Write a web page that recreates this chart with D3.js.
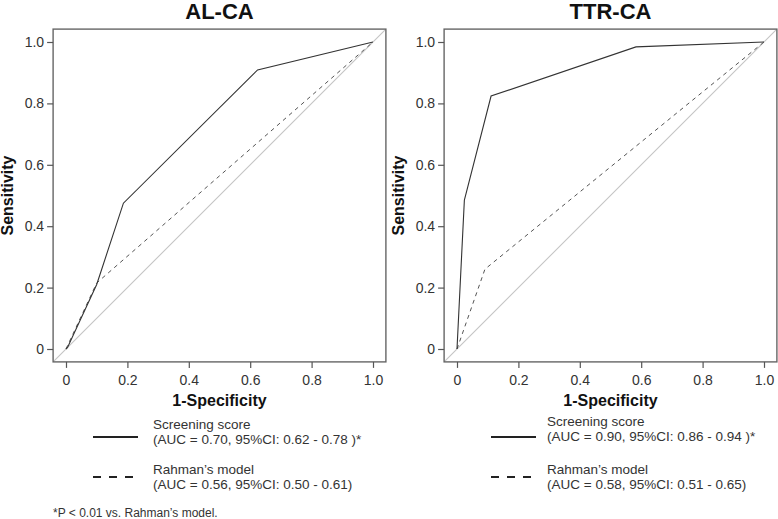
<!DOCTYPE html>
<html><head><meta charset="utf-8">
<script src="https://cdn.jsdelivr.net/npm/d3@7"></script>
<style>body{margin:0;background:#fff}text{font-family:"Liberation Sans",Arial,sans-serif}</style>
</head><body><svg id="c" width="778" height="519"></svg>
<script>
const panels = ["AL-CA", "TTR-CA"];
const tickValues = [0, 0.2, 0.4, 0.6, 0.8, 1.0];
const tickLabels = ["0", "0.2", "0.4", "0.6", "0.8", "1.0"];
// ROC points [1-specificity, sensitivity]
const alScreening = [[0,0],[0.005,0.005],[0.1,0.21],[0.187,0.475],[0.624,0.909],[1,1]];
const alRahman = [[0,0],[0.1,0.215],[1,1]];
const ttrScreening = [[0,0],[0.024,0.485],[0.111,0.824],[0.583,0.984],[1,1]];
const ttrRahman = [[0,0],[0.091,0.26],[1,1]];
const legendScreening = ["(AUC = 0.70, 95%CI: 0.62 - 0.78 )*", "(AUC = 0.90, 95%CI: 0.86 - 0.94 )*"];
const legendRahman = ["(AUC = 0.56, 95%CI: 0.50 - 0.61)", "(AUC = 0.58, 95%CI: 0.51 - 0.65)"];
const footnote = "*P < 0.01 vs. Rahman\u2019s model.";

const svg = d3.select("#c");
const screening = [alScreening, ttrScreening];
const rahman = [alRahman, ttrRahman];
const x0s = [66, 457];

panels.forEach((name, i) => {
  const x = d3.scaleLinear().domain([0, 1]).range([x0s[i], x0s[i] + 307]);
  const y = d3.scaleLinear().domain([0, 1]).range([349, 42]);
  const g = svg.append("g");
  const bx0 = x(-0.042), bx1 = x(1.042), by0 = y(1.042), by1 = y(-0.042);
  const cid = "clip" + i;
  svg.append("clipPath").attr("id", cid).append("rect")
    .attr("x", bx0).attr("y", by0).attr("width", bx1 - bx0).attr("height", by1 - by0);
  g.append("line").attr("clip-path", `url(#${cid})`)
    .attr("x1", x(-0.05)).attr("y1", y(-0.05)).attr("x2", x(1.05)).attr("y2", y(1.05))
    .attr("stroke", "#c4c4c4").attr("stroke-width", 1.1);
  const line = d3.line().x(d => x(d[0])).y(d => y(d[1]));
  g.append("path").datum(rahman[i]).attr("d", line).attr("fill", "none")
    .attr("stroke", "#555").attr("stroke-width", 1).attr("stroke-dasharray", "4,4");
  g.append("path").datum(screening[i]).attr("d", line).attr("fill", "none")
    .attr("stroke", "#333").attr("stroke-width", 1.1);
  g.append("rect").attr("x", bx0).attr("y", by0).attr("width", bx1 - bx0).attr("height", by1 - by0)
    .attr("fill", "none").attr("stroke", "#666").attr("stroke-width", 1.4);
  const xa = g.append("g").attr("transform", `translate(0,${by1})`)
    .call(d3.axisBottom(x).tickValues(tickValues).tickFormat((d, k) => tickLabels[k]).tickSize(6).tickPadding(7));
  const ya = g.append("g").attr("transform", `translate(${bx0},0)`)
    .call(d3.axisLeft(y).tickValues(tickValues).tickFormat((d, k) => tickLabels[k]).tickSize(6).tickPadding(3));
  [xa, ya].forEach(a => {
    a.select(".domain").remove();
    a.selectAll("line").attr("stroke", "#555").attr("stroke-width", 1.2);
    a.selectAll("text").attr("font-size", 14).attr("fill", "#333")
      .style("font-family", "Liberation Sans, Arial, sans-serif");
  });
  g.append("text").attr("x", (bx0 + bx1) / 2).attr("y", 19).attr("text-anchor", "middle")
    .attr("font-size", 22).attr("font-weight", "bold").attr("fill", "#111").text(name);
  g.append("text").attr("x", (bx0 + bx1) / 2).attr("y", 406).attr("text-anchor", "middle")
    .attr("font-size", 16).attr("font-weight", "bold").attr("fill", "#111").text("1-Specificity");
  g.append("text").attr("transform", `translate(${bx0 - 40},${(by0 + by1) / 2}) rotate(-90)`)
    .attr("text-anchor", "middle").attr("font-size", 16).attr("font-weight", "bold").attr("fill", "#111")
    .text("Sensitivity");
  const lx = i === 0 ? 93 : 491, tx = i === 0 ? 153 : 547;
  const ly1 = 437, ly2 = 477;
  g.append("line").attr("x1", lx).attr("x2", lx + 45).attr("y1", ly1).attr("y2", ly1)
    .attr("stroke", "#222").attr("stroke-width", 1.8);
  g.append("line").attr("x1", lx).attr("x2", lx + 45).attr("y1", ly2).attr("y2", ly2)
    .attr("stroke", "#222").attr("stroke-width", 1.8).attr("stroke-dasharray", "8,8");
  const t1 = i === 0 ? 429 : 426;
  g.append("text").attr("x", tx).attr("y", t1).attr("font-size", 13.5).attr("fill", "#333").text("Screening score");
  g.append("text").attr("x", tx).attr("y", t1 + 15).attr("font-size", 13.5).attr("fill", "#333").text(legendScreening[i]);
  g.append("text").attr("x", tx).attr("y", 474).attr("font-size", 13.5).attr("fill", "#333").text("Rahman\u2019s model");
  g.append("text").attr("x", tx).attr("y", 489).attr("font-size", 13.5).attr("fill", "#333").text(legendRahman[i]);
});
svg.append("text").attr("x", 53).attr("y", 517).attr("font-size", 12).attr("fill", "#333").text(footnote);
</script></body></html>
